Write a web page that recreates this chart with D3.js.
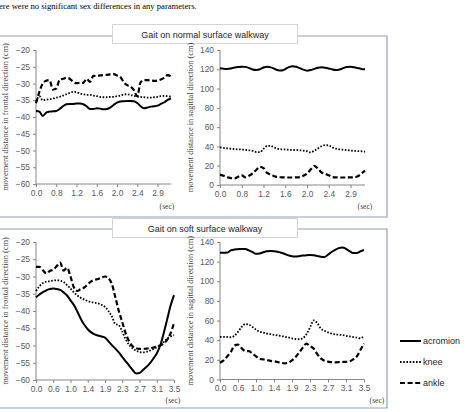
<!DOCTYPE html>
<html lang="en">
<head>
<meta charset="UTF-8">
<title>Gait movement distance</title>
<script src="https://d3js.org/d3.v7.min.js"></script>
<style>
    body { margin: 0; background: #fff; }
    svg { display: block; }
    .tick text { font-family: 'Liberation Sans', Arial, sans-serif; font-size: 8.4px; fill: #595959; }
    .tick line, .domain { stroke: #868686; stroke-width: 1px; }
    .ytitle, .sec, .note { font-family: 'Liberation Serif', 'Times New Roman', serif; fill: #404040; }
    .ptitle, .legend text { font-family: 'Liberation Sans', Arial, sans-serif; fill: #262626; }
    .series { fill: none; stroke: #000; }
</style>
</head>
<body>
<script>
    const width = 470;
    const height = 412;

    const topTicks = ['0.0', '0.8', '1.2', '1.6', '2.0', '2.4', '2.9'];
    const bottomTicks = ['0.0', '0.6', '1.0', '1.4', '1.9', '2.3', '2.7', '3.1', '3.5'];
    const frontalTicks = [-60, -55, -50, -45, -40, -35, -30, -25, -20];
    const sagittalTicks = [0, 20, 40, 60, 80, 100, 120, 140];
    const names = ['acromion', 'knee', 'ankle'];

    // normal surface, frontal
    const normFrontAcromion = [-38.2, -38.4, -39.7, -38.7, -38.4, -38.3, -38.2, -37.6, -36.8, -36.2, -36.1, -36.1, -36.0, -36.0, -36.2, -36.8, -37.6, -37.6, -37.4, -37.5, -37.7, -37.6, -37.2, -36.4, -35.7, -35.4, -35.3, -35.2, -35.2, -35.3, -35.8, -36.8, -37.4, -37.2, -36.9, -36.8, -36.6, -36.1, -35.6, -34.9, -34.4];
    const normFrontKnee = [-35.4, -33.8, -35.0, -34.8, -34.7, -34.5, -34.2, -34.0, -33.6, -33.2, -32.8, -32.5, -32.6, -33.0, -33.2, -33.4, -33.4, -33.6, -33.8, -34.0, -34.1, -34.1, -34.0, -34.0, -33.8, -33.6, -33.3, -33.2, -33.4, -33.7, -33.9, -34.0, -34.1, -34.2, -34.2, -34.1, -34.0, -33.8, -33.7, -33.8, -33.9];
    const normFrontAnkle = [-35.9, -32.5, -30.0, -29.2, -29.0, -31.8, -31.5, -28.9, -28.6, -28.3, -28.6, -29.5, -29.9, -29.8, -29.8, -28.6, -29.5, -27.7, -27.7, -27.6, -27.5, -27.4, -27.3, -27.2, -27.6, -28.1, -29.6, -30.5, -30.9, -32.0, -33.8, -29.6, -29.0, -29.0, -29.1, -29.2, -29.1, -28.8, -28.3, -27.5, -27.9];

    // normal surface, sagittal
    const normSagAcromion = [121.0, 120.6, 120.4, 120.9, 121.8, 122.4, 122.7, 122.5, 121.3, 119.8, 119.3, 120.0, 121.8, 122.6, 122.0, 120.6, 119.0, 118.8, 120.2, 122.2, 123.2, 122.6, 121.2, 119.6, 118.6, 119.2, 120.4, 121.5, 122.1, 121.7, 120.9, 119.8, 119.2, 119.8, 121.2, 122.3, 122.6, 122.1, 121.2, 120.4, 120.0];
    const normSagKnee = [39.0, 38.5, 38.0, 37.6, 37.3, 37.0, 36.8, 36.5, 36.0, 35.3, 34.2, 34.0, 37.5, 40.6, 40.5, 38.8, 37.5, 37.0, 36.8, 36.6, 36.4, 36.2, 36.0, 35.6, 35.0, 33.8, 35.5, 37.8, 40.2, 41.4, 41.0, 39.0, 37.6, 37.0, 36.6, 36.2, 35.8, 35.4, 35.2, 35.0, 34.6];
    const normSagAnkle = [10.8, 9.5, 8.0, 7.2, 6.8, 8.5, 10.0, 8.0, 9.5, 12.0, 15.5, 18.8, 17.5, 12.5, 10.8, 9.0, 8.2, 8.0, 7.8, 7.8, 7.8, 7.9, 8.2, 9.5, 11.8, 16.0, 19.8, 17.0, 13.0, 11.8, 10.0, 8.3, 7.9, 7.8, 7.8, 7.8, 7.9, 8.0, 9.0, 11.8, 14.8];

    // soft surface, frontal
    const softFrontAcromion = [-36.0, -35.2, -34.5, -34.0, -33.6, -33.5, -33.6, -33.9, -34.6, -35.5, -36.9, -38.3, -40.2, -42.3, -44.0, -45.3, -46.2, -46.8, -47.1, -47.4, -47.7, -48.8, -49.9, -50.9, -52.0, -53.3, -54.6, -55.8, -57.1, -58.1, -58.0, -57.1, -56.2, -55.2, -53.8, -52.3, -50.0, -46.5, -42.5, -38.5, -35.4];
    const softFrontKnee = [-34.2, -32.8, -31.9, -31.5, -31.4, -31.2, -31.1, -31.2, -31.6, -32.5, -33.5, -34.6, -35.5, -36.2, -36.7, -37.1, -37.4, -37.6, -37.8, -38.2, -38.8, -40.0, -41.6, -43.8, -44.1, -46.0, -48.2, -49.8, -50.8, -51.5, -51.9, -52.0, -51.8, -51.5, -51.0, -50.5, -49.9, -49.0, -48.0, -47.4, -47.0];
    const softFrontAnkle = [-27.2, -27.2, -28.2, -29.1, -28.4, -28.0, -27.0, -26.0, -28.3, -27.5, -30.0, -33.2, -34.2, -33.6, -33.2, -32.3, -31.4, -31.0, -30.7, -30.3, -30.0, -30.5, -32.2, -36.0, -40.0, -43.2, -46.5, -48.8, -50.2, -50.8, -51.0, -51.0, -50.9, -50.8, -50.6, -50.3, -50.0, -49.4, -48.4, -46.5, -43.5];

    // soft surface, sagittal
    const softSagAcromion = [129.0, 129.0, 129.2, 131.5, 132.3, 132.6, 133.0, 132.8, 131.5, 129.8, 128.0, 128.3, 129.5, 130.6, 130.9, 130.6, 130.0, 129.0, 127.8, 126.4, 125.4, 125.2, 125.6, 126.2, 126.6, 126.7, 126.4, 125.8, 125.0, 124.8, 127.0, 129.8, 132.0, 133.8, 134.5, 133.0, 130.6, 128.8, 128.8, 130.5, 131.8];
    const softSagKnee = [43.5, 43.5, 43.3, 43.0, 44.5, 48.5, 53.5, 56.5, 56.0, 53.5, 50.8, 48.8, 47.8, 46.8, 46.2, 45.5, 44.8, 44.2, 43.6, 42.8, 41.8, 41.2, 41.0, 42.0, 46.0, 53.0, 60.2, 57.5, 52.0, 49.6, 48.0, 46.8, 46.0, 45.6, 45.2, 44.5, 43.8, 43.2, 42.6, 42.0, 44.5];
    const softSagAnkle = [17.0, 19.5, 23.5, 28.0, 34.5, 35.5, 32.0, 29.0, 28.8, 26.5, 23.5, 21.0, 20.5, 20.0, 19.0, 18.5, 17.8, 17.0, 16.5, 17.2, 19.5, 23.0, 27.5, 32.5, 36.5, 34.0, 31.5, 26.0, 21.5, 19.2, 18.2, 17.6, 17.5, 17.6, 17.8, 18.0, 18.5, 20.5, 23.5, 30.0, 36.5];

    const dash = { 'acromion': null, 'knee': '1.6,1.6', 'ankle': '5,2.6' };
    const strokeW = { 'acromion': 2, 'knee': 1.8, 'ankle': 2.2 };
    const frameColour = '#8ea0b8';

    let svg = d3.select('body').append('svg')
        .attr('width', width)
        .attr('height', height);

    svg.append('text')
        .attr('class', 'note')
        .attr('x', -1)
        .attr('y', 9)
        .style('font-size', '8.6px')
        .style('fill', '#000')
        .text('ere were no significant sex differences in any parameters.');

    // panel frames
    function frame(top, bottom, title, titleY) {
        let g = svg.append('g');
        g.append('path')
            .attr('d', 'M0,' + top + 'H387V' + bottom + 'H0')
            .style('fill', 'none')
            .style('stroke', frameColour)
            .style('stroke-width', 1.2);
        g.append('rect')
            .attr('x', 112.5)
            .attr('y', titleY)
            .attr('width', 185)
            .attr('height', 19)
            .style('fill', '#fff')
            .style('stroke', '#d4d4d4');
        g.append('text')
            .attr('class', 'ptitle')
            .attr('x', 205)
            .attr('y', titleY + 13)
            .attr('text-anchor', 'middle')
            .style('font-size', '9px')
            .text(title);
    }

    frame(36, 217, 'Gait on normal surface walkway', 24.5);
    frame(229, 408, 'Gait on soft surface walkway', 218.5);

    const panels = [
        { x: [36, 171], y: [184, 50], domain: [-60, -20], yTicks: frontalTicks, xTicks: topTicks, every: 6,
          data: [normFrontAcromion, normFrontKnee, normFrontAnkle],
          title: 'movement distance in frontal direction (cm)', titleX: 8, sec: [167, 209] },
        { x: [220, 365], y: [185, 50], domain: [0, 140], yTicks: sagittalTicks, xTicks: topTicks, every: 6,
          data: [normSagAcromion, normSagKnee, normSagAnkle],
          title: 'movement distance in sagittal direction (cm)', titleX: 193, sec: [365, 209] },
        { x: [36, 174], y: [380, 242], domain: [-60, -20], yTicks: frontalTicks, xTicks: bottomTicks, every: 5,
          data: [softFrontAcromion, softFrontKnee, softFrontAnkle],
          title: 'movement distance in frontal direction (cm)', titleX: 8, sec: [173, 403] },
        { x: [220, 364], y: [379.5, 242], domain: [0, 140], yTicks: sagittalTicks, xTicks: bottomTicks, every: 5,
          data: [softSagAcromion, softSagKnee, softSagAnkle],
          title: 'movement distance in sagittal direction (cm)', titleX: 193, sec: [377, 403] }
    ];

    panels.forEach(function(p) {
        let n = p.data[0].length;
        let x = d3.scaleLinear().domain([0, n - 1]).range(p.x);
        let y = d3.scaleLinear().domain(p.domain).range(p.y);
        let g = svg.append('g');

        let yAxis = g.append('g')
            .attr('transform', 'translate(' + p.x[0] + ',0)')
            .call(d3.axisLeft(y).tickValues(p.yTicks).tickSize(3).tickPadding(3).tickFormat(d3.format('d')));
        yAxis.select('.domain').attr('d', 'M0,' + p.y[1] + 'V' + p.y[0]);

        let tickIdx = p.xTicks.map(function(d, i) { return i * p.every; });
        let xAxis = g.append('g')
            .attr('transform', 'translate(0,' + p.y[0] + ')')
            .call(d3.axisBottom(x).tickValues(tickIdx).tickSize(3).tickPadding(3)
                .tickFormat(function(d, i) { return p.xTicks[i]; }));
        xAxis.select('.domain').attr('d', 'M' + p.x[0] + ',0H' + p.x[1]);

        g.append('text')
            .attr('class', 'ytitle')
            .attr('transform', 'translate(' + p.titleX + ',' + ((p.y[0] + p.y[1]) / 2) + ') rotate(-90)')
            .attr('text-anchor', 'middle')
            .style('font-size', '8.4px')
            .text(p.title);

        g.append('text')
            .attr('class', 'sec')
            .attr('x', p.sec[0])
            .attr('y', p.sec[1])
            .attr('text-anchor', 'middle')
            .style('font-size', '7.6px')
            .text('(sec)');

        p.data.forEach(function(values, k) {
            g.append('path')
                .datum(values)
                .attr('class', 'series')
                .style('stroke-width', strokeW[names[k]])
                .style('stroke-dasharray', dash[names[k]])
                .attr('d', d3.line()
                    .curve(d3.curveMonotoneX)
                    .x(function(d, i) { return x(i); })
                    .y(function(d) { return y(d); }));
        });
    });

    // legend
    let legend = svg.append('g').attr('class', 'legend');
    names.forEach(function(name, k) {
        let ly = 341 + k * 21;
        legend.append('line')
            .attr('x1', 400).attr('x2', 421)
            .attr('y1', ly).attr('y2', ly)
            .attr('class', 'series')
            .style('stroke-width', strokeW[name])
            .style('stroke-dasharray', dash[name]);
        legend.append('text')
            .attr('x', 423)
            .attr('y', ly + 3)
            .style('font-size', '9px')
            .text(name);
    });
</script>
</body>
</html>
